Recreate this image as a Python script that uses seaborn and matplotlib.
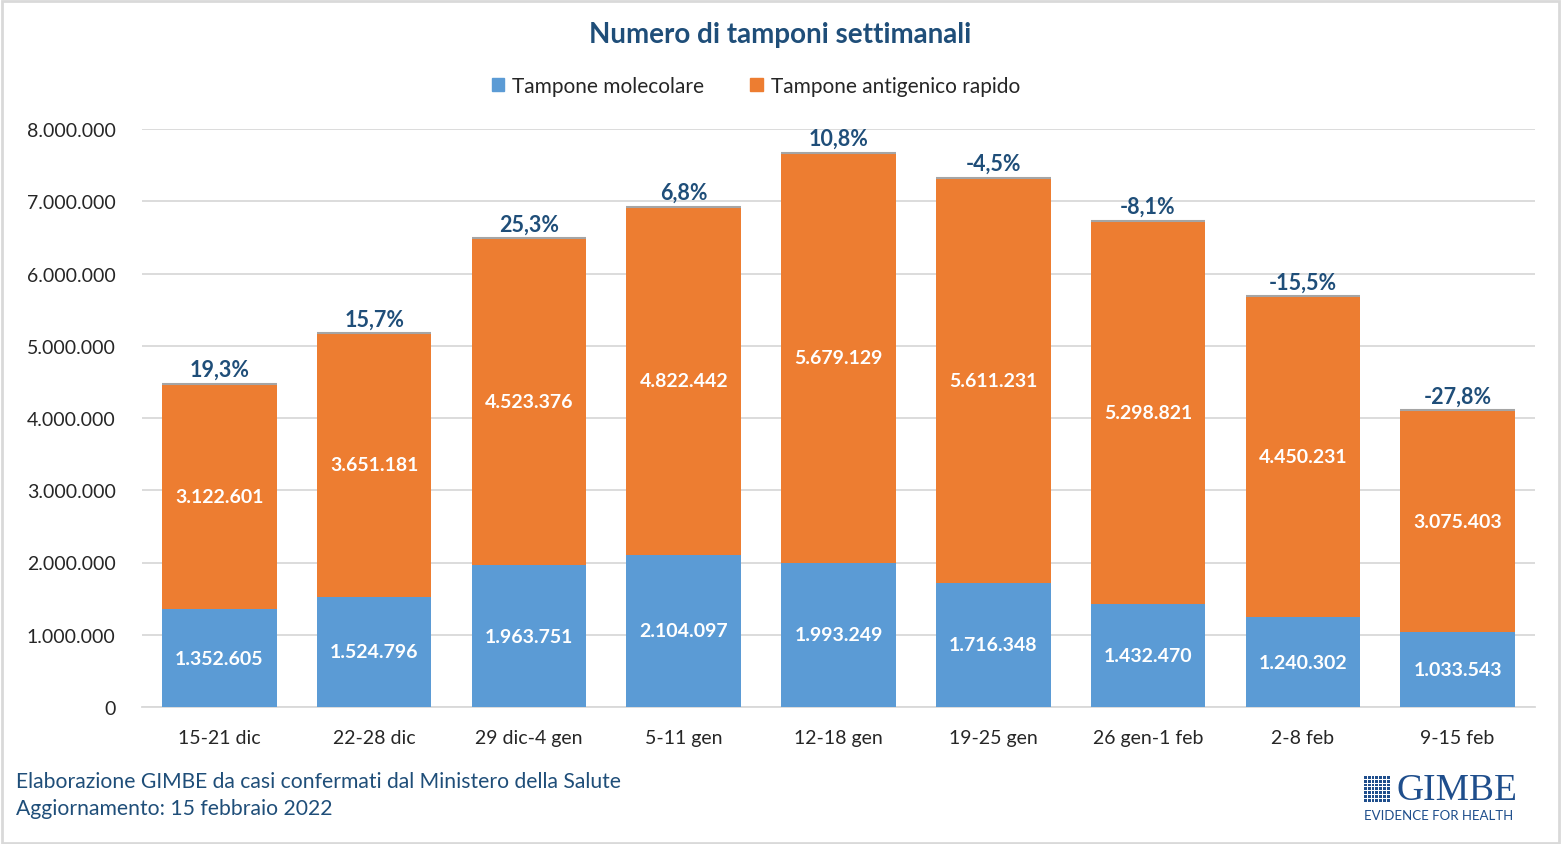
import matplotlib
matplotlib.use("Agg")
import matplotlib.pyplot as plt
import seaborn as sns
import pandas as pd
import numpy as np
from matplotlib.patches import Rectangle

weeks = ["15-21 dic", "22-28 dic", "29 dic-4 gen", "5-11 gen", "12-18 gen",
         "19-25 gen", "26 gen-1 feb", "2-8 feb", "9-15 feb"]
molecolare = [1352605, 1524796, 1963751, 2104097, 1993249, 1716348, 1432470, 1240302, 1033543]
antigenico = [3122601, 3651181, 4523376, 4822442, 5679129, 5611231, 5298821, 4450231, 3075403]
variazione = ["19,3%", "15,7%", "25,3%", "6,8%", "10,8%", "-4,5%", "-8,1%", "-15,5%", "-27,8%"]
yticks = [0, 1000000, 2000000, 3000000, 4000000, 5000000, 6000000, 7000000, 8000000]

BLUE = "#5B9BD5"
ORANGE = "#ED7D31"
NAVY = "#1F4E79"
FONT = ["Lato", "DejaVu Sans"]

sns.set_theme(style="white")
plt.rcParams["font.family"] = FONT

df = pd.DataFrame({"week": weeks, "mol": molecolare, "ant": antigenico})
df["tot"] = df["mol"] + df["ant"]

fig = plt.figure(figsize=(15.61, 8.45), dpi=100)
ax = fig.add_axes([142/1561, 1-708/845, 1393/1561, 578/845])

sns.barplot(data=df, x="week", y="tot", color=ORANGE, saturation=1, width=0.74,
            ax=ax, zorder=3, edgecolor="none")
sns.barplot(data=df, x="week", y="mol", color=BLUE, saturation=1, width=0.74,
            ax=ax, zorder=3, edgecolor="none")

# thin grey cap on each stacked bar
ax.hlines(df["tot"], np.arange(len(df)) - 0.37, np.arange(len(df)) + 0.37,
          colors="#A5A5A5", linewidth=1.5, zorder=4)

ax.set_xlim(-0.5, len(df) - 0.5)
ax.set_ylim(0, 8000000)
ax.set_yticks(yticks)
ax.set_yticklabels(["0" if v == 0 else f"{v:,}".replace(",", ".") for v in yticks],
                   fontsize=14, color="#262626")
ax.set_xticks(range(len(df)))
ax.set_xticklabels(weeks, fontsize=14, color="#262626")
ax.tick_params(axis="x", length=0, pad=15.5)
ax.tick_params(axis="y", length=0, pad=19)
ax.set_xlabel("")
ax.set_ylabel("")
ax.yaxis.grid(True, color="#D9D9D9", linewidth=1.3, zorder=0)
ax.set_axisbelow(True)
for s in ["top", "right", "left"]:
    ax.spines[s].set_visible(False)
ax.spines["bottom"].set_color("#D9D9D9")
ax.spines["bottom"].set_linewidth(1.3)

def fmt(v):
    return f"{v:,}".replace(",", ".")

for i, row in df.iterrows():
    ax.text(i, row["mol"] / 2, fmt(row["mol"]), ha="center", va="center",
            color="white", fontsize=14, fontweight="bold", zorder=5)
    ax.text(i, row["mol"] + row["ant"] / 2, fmt(row["ant"]), ha="center", va="center",
            color="white", fontsize=14, fontweight="bold", zorder=5)
    ax.annotate(variazione[i], (i, row["tot"]), xytext=(0, 2.5), textcoords="offset points",
                ha="center", va="bottom", color=NAVY, fontsize=15.5, fontweight="bold", zorder=5)

fig.text(780/1561, 1-35/845, "Numero di tamponi settimanali", ha="center", va="center",
         fontsize=20, fontweight="bold", color=NAVY)

# legend
leg_handles = [Rectangle((0, 0), 1, 1, color=BLUE), Rectangle((0, 0), 1, 1, color=ORANGE)]
fig.legend(leg_handles, ["Tampone molecolare", "Tampone antigenico rapido"],
           loc="center", bbox_to_anchor=(756/1561, 1-87/845), ncol=2, frameon=False,
           fontsize=15, handlelength=0.6, handleheight=0.6, handletextpad=0.4,
           columnspacing=2.2, labelcolor="#262626")

# footer
fig.text(16/1561, 1-782/845, "Elaborazione GIMBE da casi confermati dal Ministero della Salute",
         ha="left", va="center", fontsize=15.2, color=NAVY)
fig.text(16/1561, 1-809/845, "Aggiornamento: 15 febbraio 2022",
         ha="left", va="center", fontsize=15.2, color=NAVY)

# logo
LOGO = "#1F4E8C"
lx0, ly0 = 1364, 776
cell = 3.8
for r in range(7):
    for c in range(7):
        fig.patches.append(Rectangle(((lx0 + c * cell) / 1561, 1 - (ly0 + (r + 1) * cell) / 845),
                                     (cell - 1) / 1561, (cell - 1) / 845,
                                     transform=fig.transFigure, color=LOGO, linewidth=0))
fig.text(1396/1561, 1-791/845, "GIMBE", ha="left", va="center", fontsize=27,
         family=["Liberation Serif"], color=LOGO)
fig.text(1364/1561, 1-816/845, "EVIDENCE FOR HEALTH", ha="left", va="center",
         fontsize=9.5, color=LOGO)

# figure border
fig.patches.append(Rectangle((0.001, 0.001), 0.998, 0.997, transform=fig.transFigure,
                             fill=False, edgecolor="#D9D9D9", linewidth=2))

fig.savefig("out.png", dpi=100)
